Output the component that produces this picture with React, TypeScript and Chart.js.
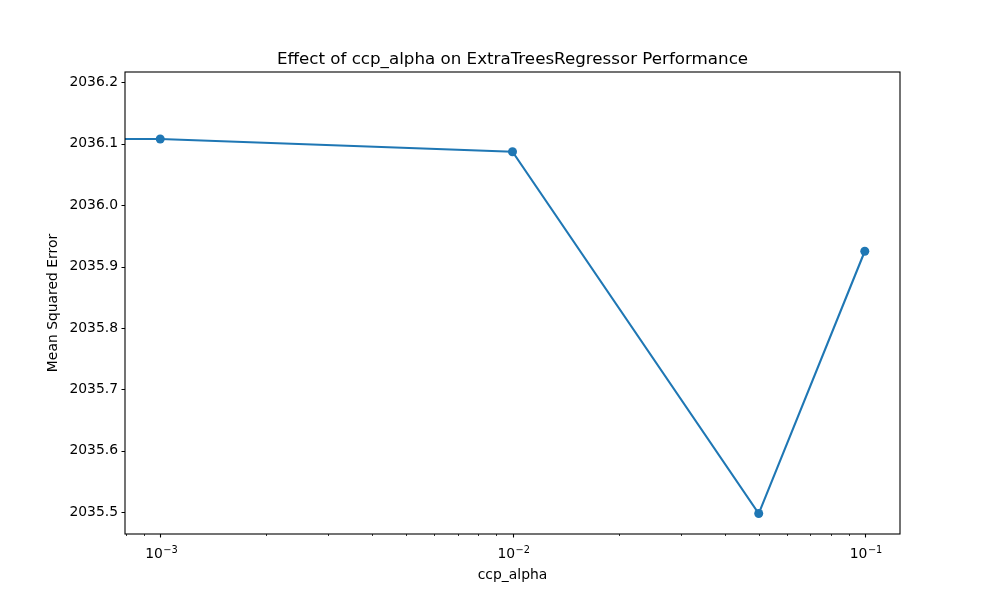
import React, { useEffect, useRef } from "react";
import { Chart, registerables } from "chart.js";

Chart.register(...registerables);

// ---- data ----
const ccpAlpha = [0, 0.001, 0.01, 0.05, 0.1];
const mse = [2036.182, 2036.1077, 2036.087, 2035.498, 2035.925];
const xMajorTicks = [0.001, 0.01, 0.1];
const xTickBase = "10";
const xTickExponents = ["\u22123", "\u22122", "\u22121"];
const yTicks = [2035.5, 2035.6, 2035.7, 2035.8, 2035.9, 2036.0, 2036.1, 2036.2];
const yTickLabels = ["2035.5", "2035.6", "2035.7", "2035.8", "2035.9", "2036.0", "2036.1", "2036.2"];
const titleText = "Effect of ccp_alpha on ExtraTreesRegressor Performance";
const xLabel = "ccp_alpha";
const yLabel = "Mean Squared Error";

const xMin = Math.pow(10, -3.1);
const xMax = Math.pow(10, -0.9);
const yMin = 2035.4647;
const yMax = 2036.2168;

const FONT = "DejaVu Sans";
const BLUE = "#1f77b4";

// matplotlib's log "clip": non-positive x becomes a tiny positive number
const clipX = (v: number) => (v > 0 ? v : 1e-300);

function minorTicks(): number[] {
  const out: number[] = [];
  for (let e = -4; e <= 0; e++) {
    for (let m = 2; m <= 9; m++) {
      const v = m * Math.pow(10, e);
      if (v >= xMin && v <= xMax) out.push(v);
    }
  }
  return out;
}

const framePlugin = {
  id: "mplFrame",
  afterDraw(chart: any) {
    const ctx = chart.ctx as CanvasRenderingContext2D;
    const { left, right, top, bottom } = chart.chartArea;
    const xs = chart.scales.x;
    const ys = chart.scales.y;
    ctx.save();
    ctx.strokeStyle = "#000";
    ctx.lineWidth = 1.1;
    // frame
    ctx.strokeRect(left, top, right - left, bottom - top);
    // x major ticks
    ctx.beginPath();
    for (const v of xMajorTicks) {
      const px = Math.round(xs.getPixelForValue(v)) + 0.5;
      ctx.moveTo(px, bottom);
      ctx.lineTo(px, bottom + 3.5);
    }
    ctx.stroke();
    // x minor ticks
    ctx.lineWidth = 0.8;
    ctx.beginPath();
    for (const v of minorTicks()) {
      const px = Math.round(xs.getPixelForValue(v)) + 0.5;
      ctx.moveTo(px, bottom);
      ctx.lineTo(px, bottom + 2);
    }
    ctx.stroke();
    // y ticks
    ctx.lineWidth = 1.1;
    ctx.beginPath();
    for (const v of yTicks) {
      const py = Math.round(ys.getPixelForValue(v)) + 0.5;
      ctx.moveTo(left, py);
      ctx.lineTo(left - 3.5, py);
    }
    ctx.stroke();
    // x tick labels: 10 with superscript exponent
    ctx.fillStyle = "#000";
    ctx.textBaseline = "alphabetic";
    ctx.textAlign = "left";
    const baseFont = `13.9px "${FONT}"`;
    const supFont = `9.8px "${FONT}"`;
    xMajorTicks.forEach((v, i) => {
      const px = xs.getPixelForValue(v);
      ctx.font = baseFont;
      const wb = ctx.measureText(xTickBase).width;
      ctx.font = supFont;
      const we = ctx.measureText(xTickExponents[i]).width;
      const x0 = px - (wb + we) / 2 + 1;
      ctx.font = baseFont;
      ctx.fillText(xTickBase, x0, bottom + 24.3);
      ctx.font = supFont;
      ctx.fillText(xTickExponents[i], x0 + wb + 0.5, bottom + 19.3);
    });
    // title
    ctx.textAlign = "center";
    ctx.font = `16.7px "${FONT}"`;
    ctx.fillText(titleText, (left + right) / 2, top - 8);
    // x label
    ctx.font = `13.9px "${FONT}"`;
    ctx.textBaseline = "middle";
    ctx.fillText(xLabel, (left + right) / 2, 575);
    // y label
    ctx.save();
    ctx.translate(53, (top + bottom) / 2);
    ctx.rotate(-Math.PI / 2);
    ctx.fillText(yLabel, 0, 0);
    ctx.restore();
    ctx.restore();
  },
};

export default function App() {
  const ref = useRef<HTMLCanvasElement | null>(null);

  useEffect(() => {
    if (!ref.current) return;
    const chart = new Chart(ref.current, {
      type: "line",
      data: {
        datasets: [
          {
            data: ccpAlpha.map((a, i) => ({ x: clipX(a), y: mse[i] })),
            borderColor: BLUE,
            backgroundColor: BLUE,
            borderWidth: 2.1,
            pointRadius: 4.5,
            pointBackgroundColor: BLUE,
            pointBorderWidth: 0,
            pointHoverRadius: 4.5,
            tension: 0,
            clip: 0,
          } as any,
        ],
      },
      options: {
        animation: false,
        responsive: false,
        events: [],
        layout: { padding: { left: 0, right: 100, top: 72, bottom: 0 } },
        plugins: {
          legend: { display: false },
          title: { display: false },
          tooltip: { enabled: false },
        },
        scales: {
          x: {
            type: "logarithmic",
            min: xMin,
            max: xMax,
            grid: { display: false, drawTicks: false },
            border: { display: false },
            afterBuildTicks: (scale: any) => {
              scale.ticks = xMajorTicks.map((v) => ({ value: v }));
            },
            afterFit: (scale: any) => {
              scale.height = 66;
            },
            ticks: { display: false },
          },
          y: {
            type: "linear",
            min: yMin,
            max: yMax,
            grid: { display: false, drawTicks: false },
            border: { display: false },
            afterBuildTicks: (scale: any) => {
              scale.ticks = yTicks.map((v) => ({ value: v }));
            },
            afterFit: (scale: any) => {
              scale.width = 125;
            },
            ticks: {
              autoSkip: false,
              padding: 7,
              color: "#000",
              font: { family: FONT, size: 13.9 },
              callback: (_v: any, i: number) => yTickLabels[i],
            },
          },
        },
      } as any,
      plugins: [framePlugin],
    });
    return () => chart.destroy();
  }, []);

  return (
    <div style={{ position: "absolute", left: 0, top: 0, width: 1000, height: 600, background: "#fff" }}>
      <canvas ref={ref} width={1000} height={600} style={{ width: 1000, height: 600, display: "block" }} />
    </div>
  );
}
